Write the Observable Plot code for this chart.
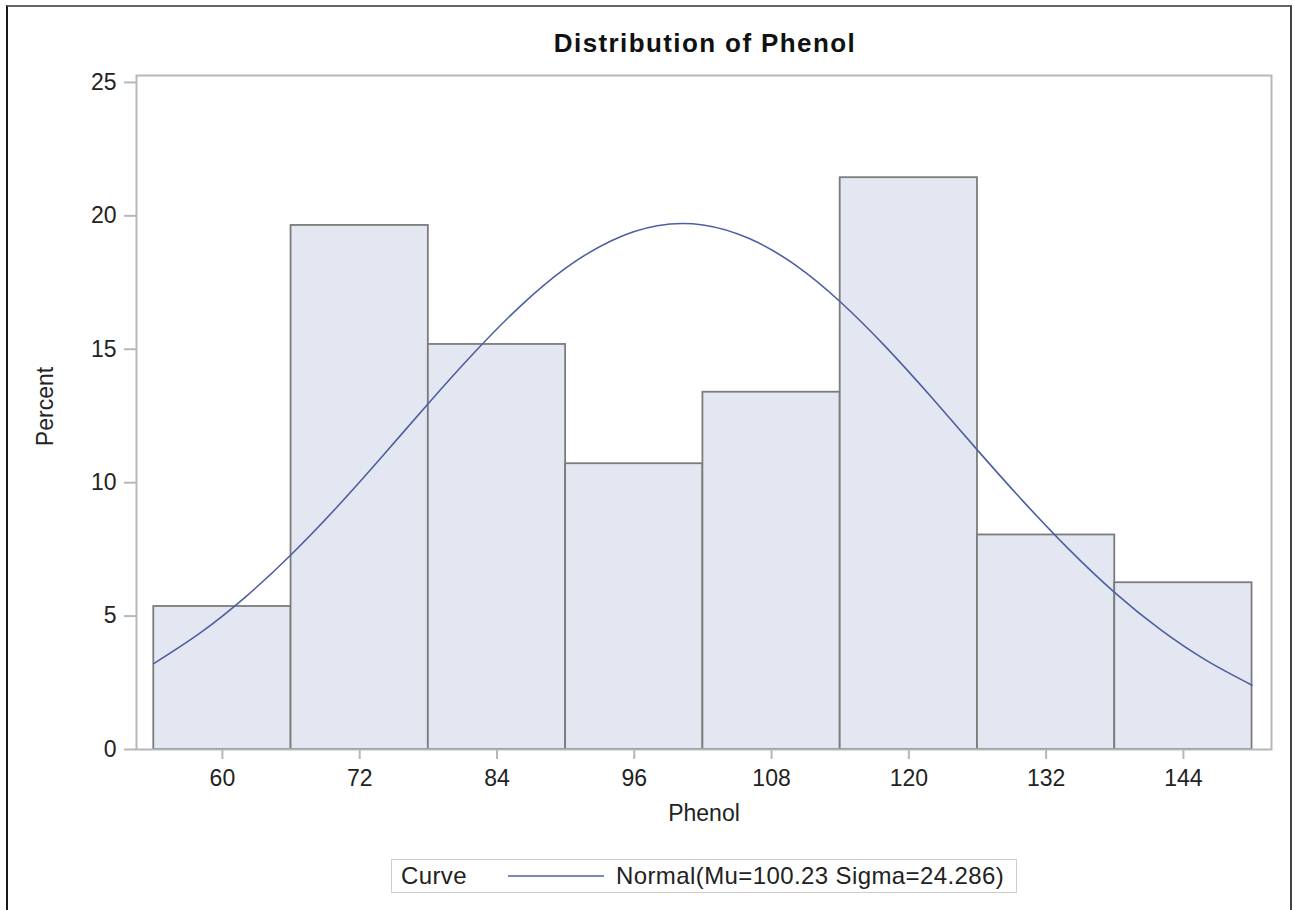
<!DOCTYPE html>
<html>
<head>
<meta charset="utf-8">
<script src="https://cdn.jsdelivr.net/npm/d3@7"></script>
<script src="https://cdn.jsdelivr.net/npm/@observablehq/plot@0.6"></script>
<style>
  html, body { margin: 0; padding: 0; background: #fff; overflow: hidden; }
  body { width: 1294px; height: 910px; position: relative; font-family: "Liberation Sans", Arial, sans-serif; color: #222; }
  #border { position: absolute; left: 6px; top: 5px; width: 1286px; height: 1000px; border-left: 2px solid #1a1a1a; border-top: 2px solid #666; border-right: 2px solid #444; box-sizing: border-box; pointer-events: none; }
  #title { position: absolute; left: 205px; width: 1000px; top: 30px; text-align: center; font-size: 26px; line-height: 26px; font-weight: bold; letter-spacing: 1.4px; color: #111; }
  #legend { position: absolute; left: 391px; top: 859px; width: 626px; height: 34px; border: 1.5px solid #cdcdcd; box-sizing: border-box; }
  #legend span { position: absolute; top: 3.5px; font-size: 24px; line-height: 24px; letter-spacing: 0.4px; color: #222; white-space: nowrap; }
  #legend svg { position: absolute; left: 115px; top: 14px; }
  #chart { position: absolute; left: 0; top: 0; }
</style>
</head>
<body>
<div id="chart"></div>
<div id="title">Distribution of Phenol</div>
<div id="legend">
  <span style="left:9px">Curve</span>
  <svg width="98" height="4"><line x1="1" x2="97" y1="2" y2="2" stroke="#4D5FA3" stroke-width="1.6"></line></svg>
  <span style="left:224px">Normal(Mu=100.23 Sigma=24.286)</span>
</div>
<div id="border"></div>
<script>
// Histogram bins (Phenol), lower edges and width
const binLow = [54, 66, 78, 90, 102, 114, 126, 138];
const binWidth = 12;
// Percent per bin
const percents = [5.36, 19.64, 15.18, 10.71, 13.39, 21.43, 8.04, 6.25];
// Fitted normal curve (percent scale)
const curveX = [54, 58, 62, 66, 70, 74, 78, 82, 86, 90, 94, 98, 102, 106, 110, 114, 118, 122, 126, 130, 134, 138, 142, 146, 150];
const curveY = [3.22, 4.35, 5.71, 7.30, 9.08, 11.00, 12.97, 14.87, 16.60, 18.04, 19.07, 19.63, 19.66, 19.16, 18.18, 16.78, 15.08, 13.19, 11.22, 9.30, 7.50, 5.88, 4.49, 3.34, 2.41];
// Axis ticks
const xTicks = [60, 72, 84, 96, 108, 120, 132, 144];
const yTicks = [0, 5, 10, 15, 20, 25];

const bars = binLow.map((lo, i) => ({x1: lo, x2: lo + binWidth, y: percents[i]}));
const curve = curveX.map((x, i) => ({x, y: curveY[i]}));

const chart = Plot.plot({
  width: 1294,
  height: 910,
  marginLeft: 136,
  marginRight: 23,
  marginTop: 75,
  marginBottom: 161,
  style: {fontFamily: "'Liberation Sans', Arial, sans-serif", fontSize: "23px", color: "#222", background: "transparent"},
  x: {domain: [52.49, 151.7]},
  y: {domain: [0, 25.26]},
  marks: [
    Plot.rect(bars, {x1: "x1", x2: "x2", y1: 0, y2: "y", fill: "#E3E7F1", stroke: "#7c7c7c", strokeWidth: 1.8, inset: 0}),
    Plot.line(curve, {x: "x", y: "y", stroke: "#4D5FA3", strokeWidth: 1.6, curve: "natural"}),
    Plot.frame({stroke: "#b4b8bc", strokeWidth: 2}),
    Plot.axisX({ticks: xTicks, tickSize: 10, tickPadding: 10, fontSize: 23, stroke: "#b4b8bc", strokeWidth: 2, fill: "#222", label: null}),
    Plot.axisY({ticks: yTicks, tickSize: 12, tickPadding: 8, fontSize: 23, stroke: "#b4b8bc", strokeWidth: 2, fill: "#222", label: null}),
    Plot.text(["Percent"], {text: d => d, frameAnchor: "left", textAnchor: "middle", dx: -91, dy: -6, rotate: -90, fontSize: 23, fill: "#222"}),
    Plot.text(["Phenol"], {text: d => d, frameAnchor: "bottom", dy: 71, fontSize: 23, fill: "#222"})
  ]
});
document.getElementById("chart").appendChild(chart);
</script>
</body>
</html>
